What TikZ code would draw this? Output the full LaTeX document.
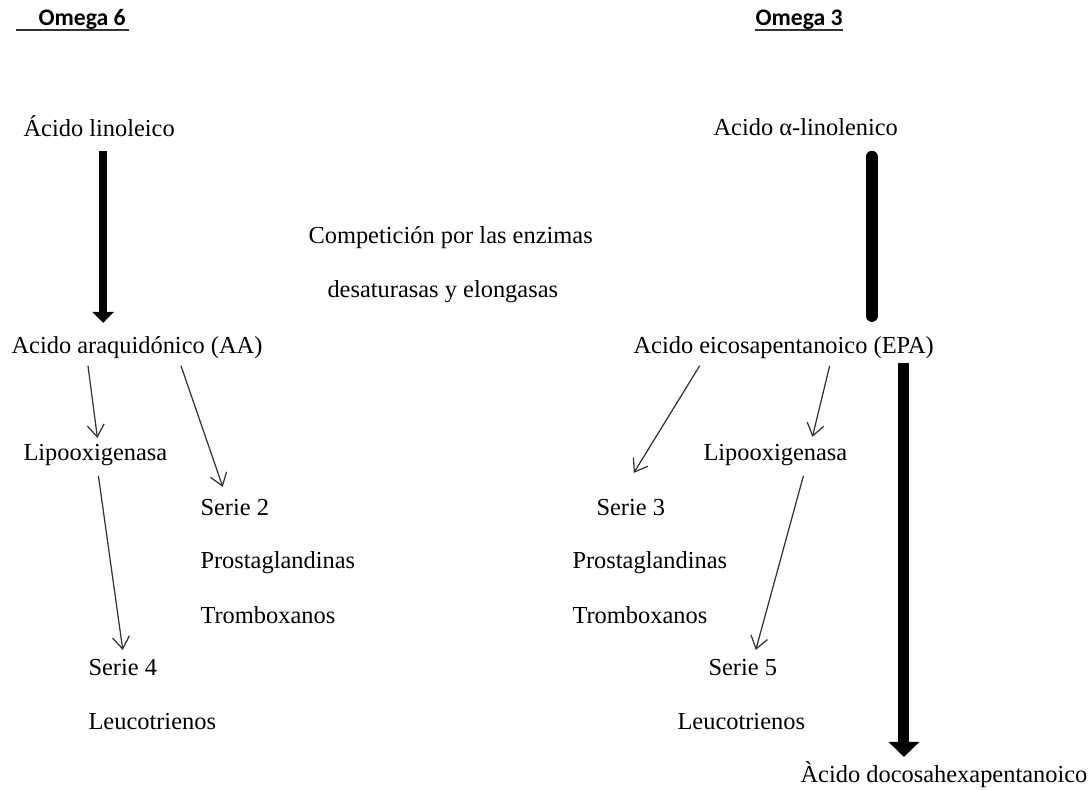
\documentclass[tikz,border=0pt]{standalone}
\usepackage{fontspec}
\setmainfont{Liberation Serif}
\newfontfamily\hdrfont{Carlito}
\usetikzlibrary{arrows.meta,calc}
\begin{document}
\begin{tikzpicture}[x=0.02cm,y=-0.02cm,semithick,
	every node/.style={anchor=base west,inner sep=0pt,text height=10pt,text depth=3pt,font=\fontsize{13.9}{16}\selectfont}]
		\tikzstyle{hdr}=[font=\hdrfont\bfseries\fontsize{13.5}{16}\selectfont]
		\tikzstyle{uline}=[line width=0.9pt,draw=black!80]
		\tikzstyle{thin}=[-{Straight Barb[length=0.24cm,width=0.34cm]},line width=0.7pt,draw=black!80]
		\tikzstyle{fatL}=[-{Triangle[width=0.42cm,length=0.22cm]},line width=0.16cm]
		\tikzstyle{fatR}=[-{Triangle[width=0.6cm,length=0.3cm]},line width=0.22cm]
		\tikzstyle{bar}=[line width=0.24cm,line cap=round]
		\useasboundingbox (0,0) rectangle (1088,789);
		\node[hdr]	(O6)	at (38,25)	{Omega 6};
		\node[hdr]	(O3)	at (755,25)	{Omega 3};
		\node	(LA)	at (23,136)	{Ácido linoleico};
		\node	(AA)	at (11,353)	{Acido araquidónico (AA)};
		\node	(ALA)	at (713,135)	{Acido α-linolenico};
		\node	(EPA)	at (633,353)	{Acido eicosapentanoico (EPA)};
		\node	(COMP)	at (308,243)	{Competición por las enzimas};
		\node	(DES)	at (327,297)	{desaturasas y elongasas};
		\node	(LOXa)	at (23,460)	{Lipooxigenasa};
		\node	(S2)	at (200,515)	{Serie 2};
		\node	(PG2)	at (200,568)	{Prostaglandinas};
		\node	(TX2)	at (200,623)	{Tromboxanos};
		\node	(S4)	at (88,675)	{Serie 4};
		\node	(LT4)	at (88,729)	{Leucotrienos};
		\node	(LOXb)	at (703,460)	{Lipooxigenasa};
		\node	(S3)	at (596,515)	{Serie 3};
		\node	(PG3)	at (572,568)	{Prostaglandinas};
		\node	(TX3)	at (572,623)	{Tromboxanos};
		\node	(S5)	at (708,675)	{Serie 5};
		\node	(LT5)	at (677,729)	{Leucotrienos};
		\node	(DHA)	at (800,782)	{Àcido docosahexapentanoico};
		\draw[uline] ($(O6.base west)+(-22,5)$) -- ($(O6.base east)+(3,5)$);
		\draw[uline] ($(O3.base west)+(0,5)$) -- ($(O3.base east)+(0,5)$);
		\draw[fatL] ($(LA.south)+(4,9)$) -- ($(LA.south |- AA.north)+(4,-12)$);
		\draw[bar] ($(ALA.south)+(66,16)$) -- ($(ALA.south |- EPA.north)+(66,-19)$);
		\draw[fatR] ($(DHA.north |- EPA.south)+(-40,4)$) -- ($(DHA.north)+(-40,-7)$);
		\draw[thin] ($(AA.south)+(-49,7)$) -- ($(LOXa.north)+(2,-4)$);
		\draw[thin] ($(AA.south)+(44,7)$) -- ($(S2.north)+(-12,-10)$);
		\draw[thin] ($(LOXa.south)+(3,10)$) -- ($(S4.north)+(0,-7)$);
		\draw[thin] ($(EPA.south)+(-84,7)$) -- ($(S3.north)+(3,-24)$);
		\draw[thin] ($(EPA.south)+(46,7)$) -- ($(LOXb.north)+(37,-5)$);
		\draw[thin] ($(LOXb.south)+(28,10)$) -- ($(S5.north)+(13,-7)$);
\end{tikzpicture}
\end{document}
